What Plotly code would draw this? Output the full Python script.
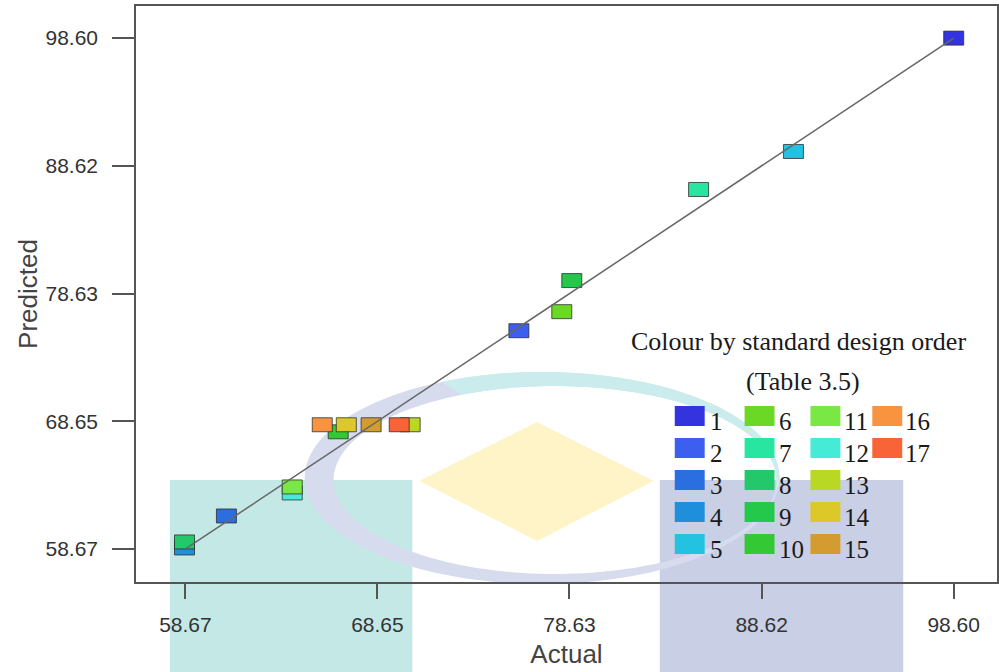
import numpy as np
import plotly.graph_objects as go

# Runs in standard design order
runs = list(range(1, 18))
actual = [98.60, 76.00, 60.80, 58.62, 90.27, 78.23, 85.34, 58.62, 78.75,
          66.61, 64.22, 64.22, 70.35, 67.03, 68.32, 65.78, 69.78]
predicted = [98.60, 75.73, 61.25, 58.75, 89.74, 77.22, 86.77, 59.22, 79.65,
             67.83, 63.52, 63.05, 68.38, 68.38, 68.38, 68.38, 68.38]
run_colors = ["#3333e0", "#3d5ff0", "#2a6ee0", "#1f8fdc", "#22c2e0",
              "#6ad824", "#28e6a0", "#22c86a", "#24c84a", "#34c834",
              "#7ae844", "#44ecd8", "#b8d824", "#dcc828", "#d49c30",
              "#f89440", "#f86438"]

tick_vals = [58.67, 68.65, 78.63, 88.62, 98.60]
tick_text = ["58.67", "68.65", "78.63", "88.62", "98.60"]

W, H = 999, 672
ML, MR, MT, MB = 136, 0, 6, 90
PW, PH = W - ML - MR, H - MT - MB


def px(x):
    return (x - ML) / PW


def py(y):
    return (H - MB - y) / PH


fig = go.Figure()

# ---- background emblem ----
fig.add_shape(type="rect", xref="paper", yref="paper", layer="below",
              x0=px(170), x1=px(413), y0=py(480), y1=py(672),
              fillcolor="rgb(196,232,230)", line_width=0)
fig.add_shape(type="rect", xref="paper", yref="paper", layer="below",
              x0=px(661), x1=px(905), y0=py(480), y1=py(672),
              fillcolor="rgb(201,207,229)", line_width=0)
dcx, dcy = 538, 481
diamond = [(420, dcy), (dcx, 422), (655, dcy), (dcx, 541)]
fig.add_shape(type="path", xref="paper", yref="paper", layer="below",
              path="M " + " L ".join(f"{px(a):.5f},{py(b):.5f}" for a, b in diamond) + " Z",
              fillcolor="rgb(255,244,200)", line_width=0)


def ring_path(c_out, r_out, c_in, r_in, t0, t1, n=90):
    th = np.radians(np.linspace(t0, t1, n))
    outer = [(c_out[0] + r_out[0] * np.cos(t), c_out[1] - r_out[1] * np.sin(t)) for t in th]
    inner = [(c_in[0] + r_in[0] * np.cos(t), c_in[1] - r_in[1] * np.sin(t)) for t in th[::-1]]
    pts = outer + inner
    return "M " + " L ".join(f"{px(a):.5f},{py(b):.5f}" for a, b in pts) + " Z"


fig.add_shape(type="path", xref="paper", yref="paper", layer="below",
              path=ring_path((543, 478), (238, 106), (556, 480), (222, 94), 0, 360, 180),
              fillcolor="rgb(214,219,238)", line_width=0)
fig.add_shape(type="path", xref="paper", yref="paper", layer="below",
              path=ring_path((543, 478), (238, 106), (556, 480), (222, 94), -5, 115, 80),
              fillcolor="rgb(202,236,236)", line_width=0)

# ---- design points: drawn from lowest predicted upward ----
order = sorted(range(len(runs)), key=lambda i: (predicted[i], runs[i]))
for i in order:
    fig.add_shape(type="rect", xref="x", yref="y", layer="below",
                  xsizemode="pixel", ysizemode="pixel",
                  xanchor=actual[i], yanchor=predicted[i],
                  x0=-10, x1=10, y0=-7, y1=7,
                  fillcolor=run_colors[i],
                  line=dict(color="rgba(40,40,40,0.75)", width=1))

fig.add_trace(go.Scatter(
    x=actual, y=predicted, mode="markers",
    marker=dict(symbol="square", size=14, opacity=0),
    customdata=runs,
    hovertemplate="Run %{customdata}<br>Actual %{x:.2f}<br>Predicted %{y:.2f}<extra></extra>",
    showlegend=False))

# 1:1 reference line
fig.add_trace(go.Scatter(
    x=[tick_vals[0], tick_vals[-1]], y=[tick_vals[0], tick_vals[-1]],
    mode="lines", line=dict(color="#666666", width=1.5),
    hoverinfo="skip", showlegend=False))

# ---- colour key ----
serif = "Liberation Serif, Times New Roman, serif"
fig.add_annotation(xref="paper", yref="paper", x=px(800), y=py(342),
                   text="Colour by standard design order", showarrow=False,
                   xanchor="center", yanchor="middle",
                   font=dict(family=serif, size=26, color="#1a1a1a"))
fig.add_annotation(xref="paper", yref="paper", x=px(805), y=py(381),
                   text="(Table 3.5)", showarrow=False,
                   xanchor="center", yanchor="middle",
                   font=dict(family=serif, size=26, color="#1a1a1a"))

col_x = [676, 746, 812, 874]
lab_x = [709, 778, 844, 905]
row_y = [416, 448, 480, 512, 544]
for k, r in enumerate(runs):
    c, rw = divmod(k, 5)
    x0 = col_x[c]
    yc = row_y[rw]
    fig.add_shape(type="rect", xref="paper", yref="paper", layer="above",
                  x0=px(x0), x1=px(x0 + 30), y0=py(yc + 10), y1=py(yc - 10),
                  fillcolor=run_colors[k], line_width=0)
    fig.add_annotation(xref="paper", yref="paper", x=px(lab_x[c]), y=py(yc + 5),
                       text=str(r), showarrow=False, xanchor="left", yanchor="middle",
                       font=dict(family=serif, size=25, color="#1a1a1a"))

axis_common = dict(
    tickvals=tick_vals, ticktext=tick_text,
    showline=True, linecolor="#555555", linewidth=1.5, mirror=True,
    ticks="outside", tickcolor="#555555", tickwidth=1.5,
    showgrid=False, zeroline=False,
    tickfont=dict(family="Liberation Sans, Arial, sans-serif", size=21, color="#333333"),
)

fig.update_xaxes(range=[56.10, 100.85], ticklen=15, ticklabelstandoff=8,
                 title=dict(text="Actual", standoff=10,
                            font=dict(family="Liberation Sans, Arial, sans-serif",
                                      size=26, color="#444444")),
                 **axis_common)
fig.update_yaxes(range=[56.09, 101.11], ticklen=22, ticklabelstandoff=10,
                 title=dict(text="Predicted", standoff=0,
                            font=dict(family="Liberation Sans, Arial, sans-serif",
                                      size=26, color="#444444")),
                 **axis_common)

fig.update_layout(
    width=W, height=H, autosize=False,
    margin=dict(l=ML, r=MR, t=MT, b=MB),
    paper_bgcolor="white", plot_bgcolor="white",
    showlegend=False,
)

fig.write_html("out.html")
